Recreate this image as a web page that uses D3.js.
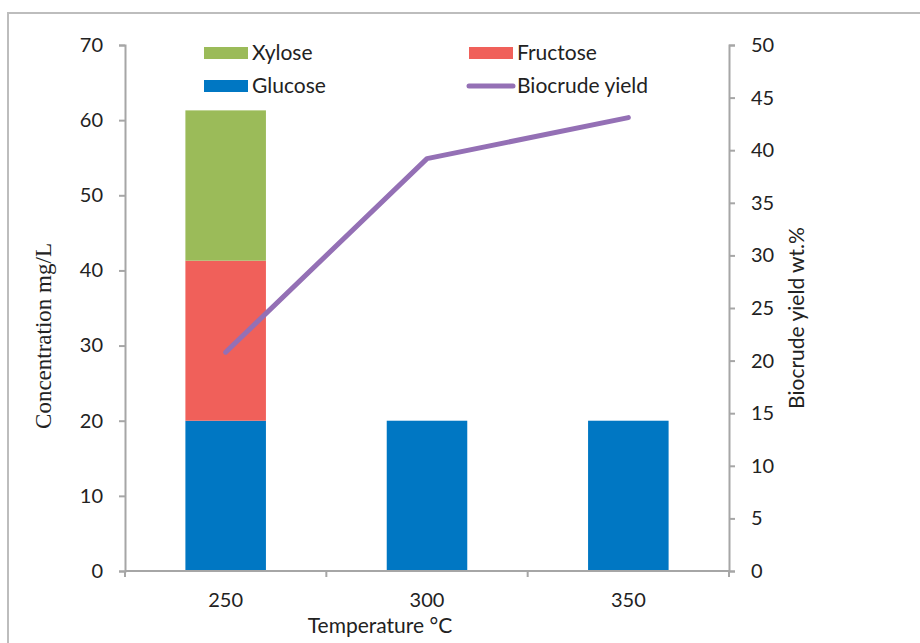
<!doctype html>
<html lang="en">
<head>
  <meta charset="utf-8">
  <title>Sugars and biocrude yield</title>
  <script src="https://d3js.org/d3.v7.min.js"></script>
  <style>
    html, body { margin: 0; padding: 0; background: #fff; }
    svg { display: block; }
    .tick text { font-family: Lato, "Open Sans", sans-serif; font-size: 20px; fill: #222; }
    .legend text { font-family: Lato, "Open Sans", sans-serif; font-size: 21px; fill: #222; }
  </style>
</head>
<body>
  <div id="chart"></div>
  <script>
    const temps = ['250', '300', '350'];
    const glucose = [20, 20, 20];
    const fructose = [21.3, 0, 0];
    const xylose = [20, 0, 0];
    const biocrudeYield = [20.8, 39.2, 43.1];
    const leftTicks = [0, 10, 20, 30, 40, 50, 60, 70];
    const rightTicks = [0, 5, 10, 15, 20, 25, 30, 35, 40, 45, 50];

    const width = 920, height = 643;
    const axisColor = '#a6a6a6';
    const color = { Glucose: '#0077c3', Fructose: '#f0605a', Xylose: '#9bbb59', Yield: '#9470b5' };

    const svg = d3.select('#chart').append('svg')
      .attr('width', width).attr('height', height);

    // outer frame
    svg.append('path')
      .attr('d', 'M8,' + height + ' V13 H' + width)
      .attr('fill', 'none').attr('stroke', '#bdbdbd').attr('stroke-width', 2);

    const x = d3.scaleBand().domain(temps).range([125, 729]).paddingInner(0.6).paddingOuter(0.3);
    const yL = d3.scaleLinear().domain([0, 70]).range([571, 45]);
    const yR = d3.scaleLinear().domain([0, 50]).range([571, 45]);

    // stacked bars
    const rows = temps.map((t, i) => ({ t: t, Glucose: glucose[i], Fructose: fructose[i], Xylose: xylose[i] }));
    const stack = d3.stack().keys(['Glucose', 'Fructose', 'Xylose'])(rows);
    stack.forEach(layer => {
      svg.append('g').selectAll('rect').data(layer.filter(d => d[1] > d[0])).join('rect')
        .attr('x', d => x(d.data.t))
        .attr('width', x.bandwidth())
        .attr('y', d => yL(d[1]))
        .attr('height', d => yL(d[0]) - yL(d[1]))
        .attr('fill', color[layer.key]);
    });

    // left axis
    const gL = svg.append('g').attr('transform', 'translate(125,0)')
      .call(d3.axisLeft(yL).tickValues(leftTicks).tickSize(6).tickPadding(16));
    // right axis
    const gR = svg.append('g').attr('transform', 'translate(729,0)')
      .call(d3.axisRight(yR).tickValues(rightTicks).tickSize(6).tickPadding(16));
    // bottom axis with labels only, ticks at category boundaries
    const gB = svg.append('g').attr('transform', 'translate(0,571)')
      .call(d3.axisBottom(x).tickSize(0).tickPadding(22));
    gB.select('.domain').remove();
    svg.append('line').attr('x1', 125).attr('x2', 729).attr('y1', 571).attr('y2', 571)
      .attr('stroke', axisColor).attr('stroke-width', 2);
    const bounds = [x.range()[0]].concat(temps.map(t => x(t) + x.bandwidth() + x.step() * x.paddingInner() / 2));
    bounds[bounds.length - 1] = x.range()[1];
    svg.append('g').selectAll('line').data(bounds).join('line')
      .attr('x1', d => d).attr('x2', d => d).attr('y1', 571).attr('y2', 577)
      .attr('stroke', axisColor).attr('stroke-width', 2);

    [gL, gR].forEach(g => {
      g.select('.domain').attr('stroke', axisColor).attr('stroke-width', 2);
      g.selectAll('.tick line').attr('stroke', axisColor).attr('stroke-width', 2);
    });

    // biocrude yield line
    const line = d3.line().x((d, i) => x(temps[i]) + x.bandwidth() / 2).y(d => yR(d));
    svg.append('path').datum(biocrudeYield)
      .attr('d', line)
      .attr('fill', 'none').attr('stroke', color.Yield).attr('stroke-width', 5)
      .attr('stroke-linecap', 'round').attr('stroke-linejoin', 'round');

    // axis titles
    svg.append('text')
      .attr('transform', 'translate(51,336) rotate(-90)')
      .attr('text-anchor', 'middle')
      .style('font-family', '"Liberation Serif", serif').style('font-size', '23px').style('fill', '#222')
      .text('Concentration mg/L');
    svg.append('text')
      .attr('transform', 'translate(804,318) rotate(-90)')
      .attr('text-anchor', 'middle')
      .style('font-family', 'Lato, "Open Sans", sans-serif').style('font-size', '21px').style('fill', '#222')
      .text('Biocrude yield wt.%');
    svg.append('text')
      .attr('x', 380).attr('y', 633)
      .attr('text-anchor', 'middle')
      .style('font-family', 'Lato, "Open Sans", sans-serif').style('font-size', '21px').style('fill', '#222')
      .text('Temperature °C');

    // legend
    const legendItems = [
      { name: 'Xylose', kind: 'rect', x: 204, y: 53 },
      { name: 'Fructose', kind: 'rect', x: 469, y: 53 },
      { name: 'Glucose', kind: 'rect', x: 204, y: 86 },
      { name: 'Biocrude yield', kind: 'line', x: 469, y: 86 }
    ];
    const legend = svg.append('g').attr('class', 'legend');
    legendItems.forEach(it => {
      const g = legend.append('g').attr('transform', 'translate(' + it.x + ',' + it.y + ')');
      if (it.kind === 'rect') {
        g.append('rect').attr('x', 0).attr('y', -6).attr('width', 44).attr('height', 12)
          .attr('fill', color[it.name]);
      } else {
        g.append('line').attr('x1', 0).attr('x2', 44).attr('y1', 0).attr('y2', 0)
          .attr('stroke', color.Yield).attr('stroke-width', 5).attr('stroke-linecap', 'round');
      }
      g.append('text').attr('x', 48).attr('y', 7).text(it.name);
    });
  </script>
</body>
</html>
